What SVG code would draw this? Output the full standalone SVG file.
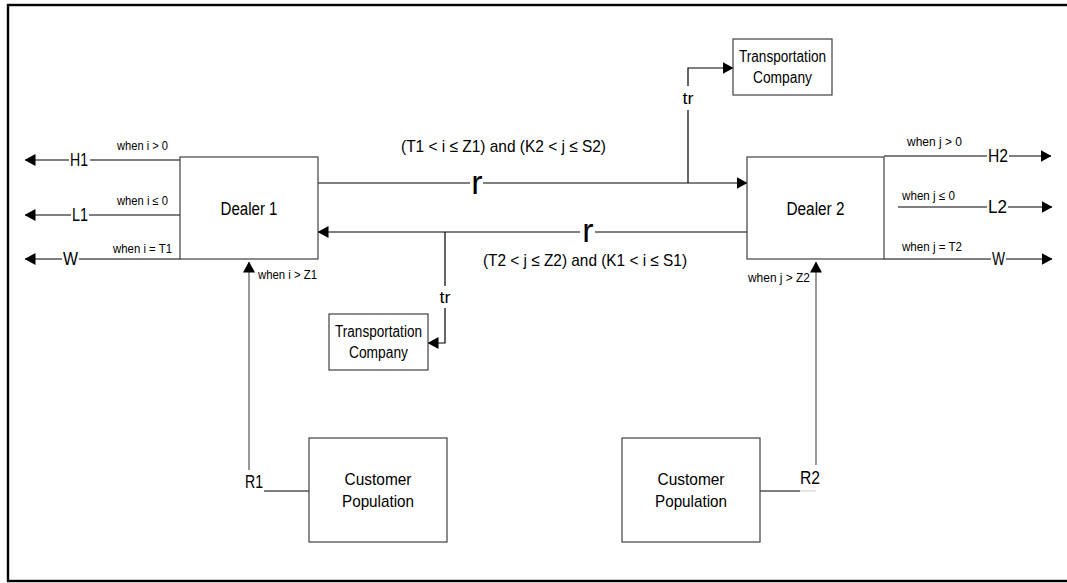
<svg xmlns="http://www.w3.org/2000/svg" width="1067" height="583" viewBox="0 0 1067 583">
<style>
text{font-family:"Liberation Sans",Arial,sans-serif;fill:#000}
.box{fill:#fff;stroke:#404040;stroke-width:1.2}
.ln{fill:none;stroke:#000;stroke-width:1.2}
.gl{fill:none;stroke:#808080;stroke-width:1.6}
.s{font-size:12.5px}
.m{font-size:17px}
.b{font-size:18px}
.t{font-size:16px}
.r{font-size:34px}
</style>
<defs>
<marker id="ah" markerUnits="userSpaceOnUse" markerWidth="11" markerHeight="12" refX="10.5" refY="6" orient="auto" viewBox="0 0 11 12">
<path d="M0,0 L11,6 L0,12 z" fill="#000"/>
</marker>
</defs>
<rect x="8" y="5" width="1075" height="576" fill="#fff" stroke="#000" stroke-width="2.4"/>

<g id="connectors">
<path class="ln" d="M180,160 H90 M69,160 H25" marker-end="url(#ah)"/>
<path class="ln" d="M180,215 H89 M71,215 H25" marker-end="url(#ah)"/>
<path class="ln" d="M180,259 H79 M62,259 H25" marker-end="url(#ah)"/>
<path class="ln" d="M884,156 H987 M1009,156 H1051" marker-end="url(#ah)"/>
<path class="ln" d="M898,207 H987 M1008,207 H1052" marker-end="url(#ah)"/>
<path class="ln" d="M884,259 H991 M1006,259 H1052" marker-end="url(#ah)"/>
<path class="ln" d="M318,183 H470 M483,183 H747" marker-end="url(#ah)"/>
<path class="ln" d="M747,232 H595 M580,232 H318" marker-end="url(#ah)"/>
<path class="ln" d="M688,183 V110 M688,86 V68 H733" marker-end="url(#ah)"/>
<path class="ln" d="M445,232 V286 M445,308 V343 H428" marker-end="url(#ah)"/>
<path class="ln" d="M264,491 H309"/>
<path class="gl" d="M249,470 V262" marker-end="url(#ah)"/>
<path class="ln" d="M760,491 H800"/>
<path d="M800,491 H816" stroke="#ccc" stroke-width="1"/>
<path class="gl" d="M816,465 V262" marker-end="url(#ah)"/>

<text class="s" x="117" y="150" textLength="51" lengthAdjust="spacingAndGlyphs">when i &gt; 0</text>
<text class="s" x="117" y="205" textLength="51" lengthAdjust="spacingAndGlyphs">when i ≤ 0</text>
<text class="s" x="113" y="253" textLength="59" lengthAdjust="spacingAndGlyphs">when i = T1</text>
<text class="s" x="258" y="279" textLength="59" lengthAdjust="spacingAndGlyphs">when i &gt; Z1</text>
<text class="s" x="907" y="146" textLength="55" lengthAdjust="spacingAndGlyphs">when j &gt; 0</text>
<text class="s" x="902" y="200" textLength="53" lengthAdjust="spacingAndGlyphs">when j ≤ 0</text>
<text class="s" x="902" y="251" textLength="60" lengthAdjust="spacingAndGlyphs">when j = T2</text>
<text class="s" x="748" y="282" textLength="62" lengthAdjust="spacingAndGlyphs">when j &gt; Z2</text>

<text class="b" x="70" y="166" textLength="18" lengthAdjust="spacingAndGlyphs">H1</text>
<text class="b" x="72" y="221" textLength="16" lengthAdjust="spacingAndGlyphs">L1</text>
<text class="b" x="63" y="265" textLength="15" lengthAdjust="spacingAndGlyphs">W</text>
<text class="b" x="988" y="162" textLength="20" lengthAdjust="spacingAndGlyphs">H2</text>
<text class="b" x="988" y="213" textLength="19" lengthAdjust="spacingAndGlyphs">L2</text>
<text class="b" x="992" y="265" textLength="13" lengthAdjust="spacingAndGlyphs">W</text>

<text class="m" x="401" y="152" textLength="205" lengthAdjust="spacingAndGlyphs">(T1 &lt; i ≤ Z1) and (K2 &lt; j ≤ S2)</text>
<text class="m" x="483" y="266" textLength="204" lengthAdjust="spacingAndGlyphs">(T2 &lt; j ≤ Z2) and (K1 &lt; i ≤ S1)</text>
<text class="r" x="477" y="194" text-anchor="middle">r</text>
<text class="r" x="588" y="242" text-anchor="middle">r</text>
<text class="m" x="688" y="104" text-anchor="middle" textLength="11" lengthAdjust="spacingAndGlyphs">tr</text>
<text class="m" x="445" y="303" text-anchor="middle" textLength="11" lengthAdjust="spacingAndGlyphs">tr</text>
<text class="b" x="245" y="488" textLength="18" lengthAdjust="spacingAndGlyphs">R1</text>
<text class="b" x="800" y="484" textLength="20" lengthAdjust="spacingAndGlyphs">R2</text>
</g>

<g id="dealer1">
<rect class="box" x="180" y="157" width="138" height="102"/>
<text class="b" x="249" y="215" text-anchor="middle" textLength="57" lengthAdjust="spacingAndGlyphs">Dealer 1</text>
</g>
<g id="dealer2">
<rect class="box" x="747" y="157" width="137" height="102"/>
<text class="b" x="815.5" y="215" text-anchor="middle" textLength="58" lengthAdjust="spacingAndGlyphs">Dealer 2</text>
</g>
<g id="transport-top">
<rect class="box" x="733" y="39" width="99" height="56"/>
<text class="t" x="782.5" y="62" text-anchor="middle" textLength="87" lengthAdjust="spacingAndGlyphs">Transportation</text>
<text class="t" x="782.5" y="83" text-anchor="middle" textLength="59" lengthAdjust="spacingAndGlyphs">Company</text>
</g>
<g id="transport-bottom">
<rect class="box" x="329" y="314" width="99" height="56"/>
<text class="t" x="378.5" y="337" text-anchor="middle" textLength="87" lengthAdjust="spacingAndGlyphs">Transportation</text>
<text class="t" x="378.5" y="358" text-anchor="middle" textLength="59" lengthAdjust="spacingAndGlyphs">Company</text>
</g>
<g id="customer1">
<rect class="box" x="309" y="438" width="138" height="104"/>
<text class="m" x="378" y="485" text-anchor="middle" textLength="67" lengthAdjust="spacingAndGlyphs">Customer</text>
<text class="m" x="378" y="507" text-anchor="middle" textLength="72" lengthAdjust="spacingAndGlyphs">Population</text>
</g>
<g id="customer2">
<rect class="box" x="622" y="438" width="138" height="104"/>
<text class="m" x="691" y="485" text-anchor="middle" textLength="67" lengthAdjust="spacingAndGlyphs">Customer</text>
<text class="m" x="691" y="507" text-anchor="middle" textLength="72" lengthAdjust="spacingAndGlyphs">Population</text>
</g>
</svg>
